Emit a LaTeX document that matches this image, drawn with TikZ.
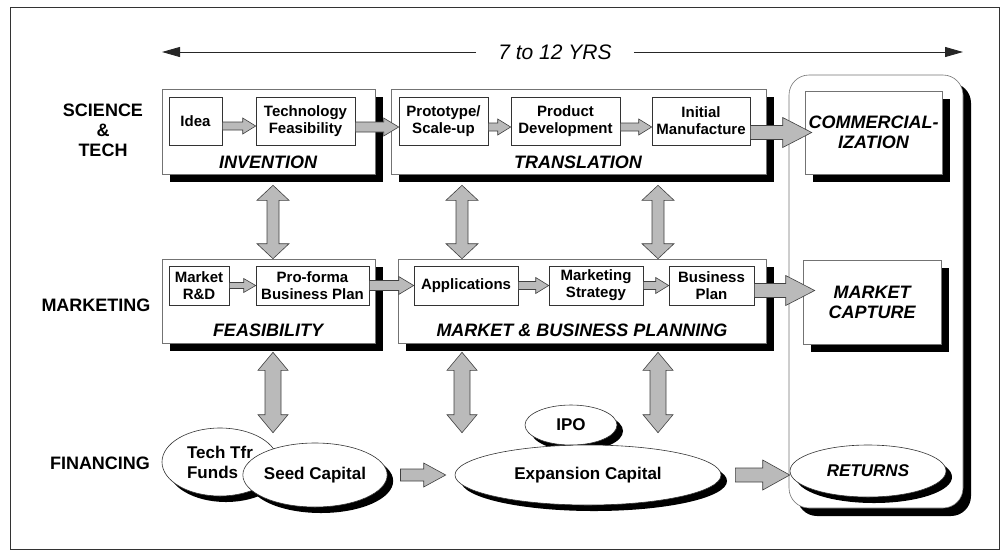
\documentclass[tikz,border=0pt]{standalone}
\usepackage{fontspec}
\setmainfont{Liberation Sans}
\usetikzlibrary{calc,shadows,shapes.geometric,arrows.meta}

% fat grey arrow, left to right: from, to, shaft half width, head half width, head length
\newcommand{\hblock}[5]{%
	\draw [blockarrow] let \p1=(#1), \p2=(#2) in
		(\x1,\y1+#3) -- (\x2-#5,\y1+#3) -- (\x2-#5,\y1+#4) -- (\x2,\y1) -- (\x2-#5,\y1-#4) -- (\x2-#5,\y1-#3) -- (\x1,\y1-#3) -- cycle;}
% fat grey double arrow, top to bottom
\newcommand{\vdouble}[5]{%
	\draw [blockarrow] let \p1=(#1), \p2=(#2) in
		(\x1,\y1) -- (\x1+#4,\y1-#5) -- (\x1+#3,\y1-#5) -- (\x1+#3,\y2+#5) -- (\x1+#4,\y2+#5) -- (\x1,\y2) -- (\x1-#4,\y2+#5) -- (\x1-#3,\y2+#5) -- (\x1-#3,\y1-#5) -- (\x1-#4,\y1-#5) -- cycle;}

\begin{document}
\begin{tikzpicture}[x=1pt,y=-1pt,
	stage/.style={draw=black!55, fill=white, line width=0.6pt, inner sep=0pt, drop shadow={shadow xshift=8pt, shadow yshift=-8pt, fill=black, opacity=1}},
	task/.style={draw=black!80, fill=white, line width=0.6pt, inner sep=0pt, align=center, font=\fontsize{15}{17}\selectfont\bfseries},
	stagelabel/.style={align=center, font=\fontsize{18}{20}\selectfont\bfseries\itshape},
	rowlabel/.style={align=center, font=\fontsize{18}{20}\selectfont\bfseries},
	fund/.style={ellipse, draw=black!80, fill=white, line width=0.6pt, inner sep=0pt, align=center, font=\fontsize{17}{20}\selectfont\bfseries, drop shadow={shadow xshift=6pt, shadow yshift=-6pt, fill=black, opacity=1}},
	blockarrow/.style={draw=black!75, fill=black!27, line width=0.6pt, line join=miter},
	timeline/.style={black!85, line width=0.8pt, -{Triangle[length=18pt,width=10pt]}}]
	\useasboundingbox (0,0) rectangle (1000,550);
	\draw [black!80, line width=0.9pt] (10,7) rectangle (999,549);

	\node [font=\fontsize{21}{24}\selectfont\itshape, inner xsep=22pt] (years) at (555,52) {7 to 12 YRS};
	\coordinate (tstart) at (162,52);
	\coordinate (tend) at (963,52);
	\draw [timeline] (years.west) -- (tstart);
	\draw [timeline] (years.east) -- (tend);

	\node [rowlabel] (scitech) at (103,130) {SCIENCE\\\&\\TECH};
	\node [rowlabel] (mktg) at (96,305) {MARKETING};
	\node [rowlabel] (fin) at (100,463) {FINANCING};

	\node [stage, rounded corners=20pt, minimum width=174, minimum height=433] (outcome) at (876,291.5) {};

	\node [stage, minimum width=213, minimum height=85] (invention) at (268.5,131.5) {};
	\node [stage, minimum width=375, minimum height=85] (translation) at (578.5,131.5) {};
	\node [stage, minimum width=213, minimum height=84] (feasibility) at (268.5,301) {};
	\node [stage, minimum width=368, minimum height=84] (mbp) at (582,301) {};
	\node [stage, stagelabel, minimum width=137, minimum height=83] (comm) at (873.5,132.5) {COMMERCIAL-\\IZATION};
	\node [stage, stagelabel, minimum width=138, minimum height=84] (mcap) at (872,302) {MARKET\\CAPTURE};

	\node [stagelabel] (invlabel) at (268,162) {INVENTION};
	\node [stagelabel] (translabel) at (578,162) {TRANSLATION};
	\node [stagelabel] (feaslabel) at (268,330) {FEASIBILITY};
	\node [stagelabel] (mbplabel) at (582,330) {MARKET \& BUSINESS PLANNING};

	\node [task, minimum width=53, minimum height=48] (idea) at (195.5,121) {Idea};
	\node [task, minimum width=99, minimum height=48] (tech) at (305.5,121) {Technology\\Feasibility};
	\node [task, minimum width=89, minimum height=48] (proto) at (443.5,121) {Prototype/\\Scale-up};
	\node [task, minimum width=109, minimum height=48] (proddev) at (565.5,121) {Product\\Development};
	\node [task, minimum width=98, minimum height=48] (initman) at (701,121) {Initial\\Manufacture};
	\node [task, minimum width=60, minimum height=39] (mrd) at (199,285.5) {Market\\R\&D};
	\node [task, minimum width=113, minimum height=39] (proforma) at (312.5,285.5) {Pro-forma\\Business Plan};
	\node [task, minimum width=104, minimum height=39] (appl) at (466,285.5) {Applications};
	\node [task, minimum width=94, minimum height=39] (mstrat) at (596,285.5) {Marketing\\Strategy};
	\node [task, minimum width=85, minimum height=39] (bplan) at (711.5,285.5) {Business\\Plan};

	\node [fund, align=left, minimum width=116, minimum height=68] (techtfr) at (220,462) {Tech Tfr\\Funds};
	\node [fund, minimum width=140, minimum height=64] (seed) at (315,475) {Seed Capital};
	\node [fund, minimum width=92, minimum height=40] (ipo) at (571,425) {IPO};
	\node [fund, minimum width=266, minimum height=60] (expansion) at (588,475) {Expansion Capital};
	\node [fund, font=\fontsize{17}{20}\selectfont\bfseries\itshape, minimum width=156, minimum height=52] (returns) at (868,471) {RETURNS};

	\hblock{[yshift=-5pt]idea.east}{[yshift=-5pt]tech.west}{4pt}{8pt}{13pt}
	\hblock{[yshift=-6pt]tech.east}{proto.west}{5pt}{9pt}{15pt}
	\hblock{[yshift=-6pt]proto.east}{proddev.west}{4pt}{8pt}{13pt}
	\hblock{[yshift=-6pt]proddev.east}{initman.west}{4pt}{8pt}{13pt}
	\hblock{initman.east |- comm.west}{[xshift=7pt]comm.west}{7pt}{15pt}{29pt}
	\hblock{mrd.east}{proforma.west}{3pt}{7pt}{12pt}
	\hblock{proforma.east}{appl.west}{5pt}{9pt}{15pt}
	\hblock{appl.east}{mstrat.west}{4pt}{8pt}{13pt}
	\hblock{mstrat.east}{bplan.west}{4pt}{8pt}{13pt}
	\hblock{[yshift=-5pt]bplan.east}{[xshift=12pt]mcap.west}{7pt}{15pt}{29pt}
	\hblock{[xshift=13pt]seed.east}{[xshift=-9pt]expansion.west}{6pt}{12pt}{22pt}
	\hblock{[xshift=14pt]expansion.east}{returns.west}{7pt}{15pt}{27pt}

	\coordinate (ca) at (273,0);
	\coordinate (cb) at (462,0);
	\coordinate (cc) at (658,0);
	\vdouble{$(ca |- invention.south)+(0,11)$}{ca |- feasibility.north}{6pt}{16pt}{15pt}
	\vdouble{$(cb |- translation.south)+(0,11)$}{cb |- mbp.north}{6pt}{16pt}{15pt}
	\vdouble{$(cc |- translation.south)+(0,11)$}{cc |- mbp.north}{6pt}{16pt}{15pt}
	\vdouble{$(ca |- feasibility.south)+(0,9)$}{$(ca |- seed.north)+(0,-10)$}{8pt}{15pt}{18pt}
	\vdouble{$(cb |- mbp.south)+(0,9)$}{$(cb |- seed.north)+(0,-10)$}{8pt}{15pt}{18pt}
	\vdouble{$(cc |- mbp.south)+(0,9)$}{$(cc |- seed.north)+(0,-10)$}{8pt}{15pt}{18pt}
\end{tikzpicture}
\end{document}
